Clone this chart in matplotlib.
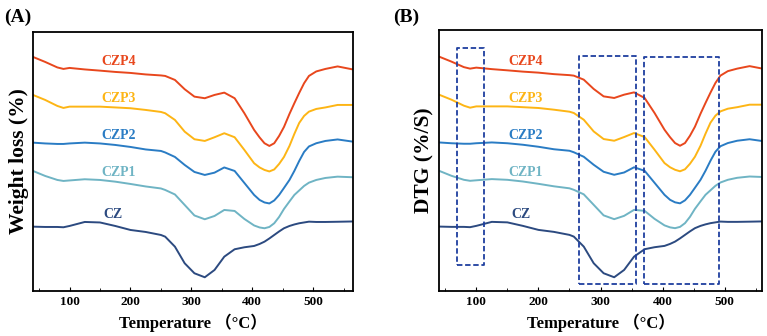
import numpy as np
import matplotlib.pyplot as plt
from matplotlib.ticker import MultipleLocator

# temperature (C) and curve values (arbitrary units, offset for stacking)
temp = [40, 60, 80, 90, 100, 125, 150, 175, 200, 225, 250, 257, 273, 289, 305, 322, 338, 354,
        371, 387, 403, 412, 420, 428, 436, 444, 452, 461, 469, 477, 485, 493, 505, 520, 540, 565]
czp4 = [243, 238, 232.5, 231, 232, 230.5, 229.3, 228, 227, 225.5, 224.5, 224, 220, 210.7, 203.3, 201.7, 205, 207.3,
        201.7, 186.7, 170, 162.5, 156.7, 154, 156.7, 164, 173, 186, 196.7, 207, 216.7, 224, 228.5, 231, 233.5, 230.5]
czp3 = [205, 200, 194, 192, 193.3, 193.3, 193.3, 192.5, 191.7, 190, 188, 186.7, 180, 168.3, 160.7, 159, 162.7, 166.7,
        162.7, 150, 136.7, 132.5, 130, 128.5, 130.5, 136, 143, 154, 166, 177, 184, 188.3, 191, 192.5, 195, 195]
czp2 = [157.3, 156.5, 156, 156, 156.5, 157.3, 156.5, 155, 153, 150.5, 149, 147.5, 143, 135, 128, 125, 127.3, 132.5,
        129, 117, 105, 100, 97.5, 96.5, 99.5, 105, 112, 120, 129, 139, 148, 153.5, 156.7, 159, 160.5, 158.3]
czp1 = [129, 124, 120, 119, 119.5, 120.7, 120, 118.3, 116, 113.5, 111.5, 110, 105.5, 95, 84.5, 80.7, 84, 90,
        89, 81, 74.5, 72.5, 71.7, 73, 76.7, 83, 91, 98.5, 105, 109.5, 114, 117.3, 120, 122, 123.3, 122.7]
cz = [73.3, 73, 73, 72.7, 74, 78, 77.5, 74, 70, 68, 65, 63.3, 53.3, 36.7, 26.7, 22.7, 30, 43.3,
      50.7, 52.7, 54, 56, 58.3, 61.5, 65, 68.5, 71.7, 74, 75.5, 76.7, 77.5, 78.3, 78, 78, 78.2, 78.5]

names = ['CZP4', 'CZP3', 'CZP2', 'CZP1', 'CZ']
colors = ['#e8471d', '#fdb515', '#2a7cc4', '#6fb4c4', '#2c4a80']
label_x = [180, 180, 180, 180, 172]
label_y = [238, 201, 164, 127, 85]

# dashed boxes on panel B: (t0, t1, y0, y1)
boxes = [(69, 112, 35, 252), (266, 357, 16, 244), (370, 491, 16, 243)]

plt.rcParams['font.family'] = ['Liberation Serif', 'Noto Sans CJK SC']
plt.rcParams['font.weight'] = 'bold'

fig = plt.figure(figsize=(7.67, 3.36), dpi=100)
axA = fig.add_axes([0.043, 0.134, 0.417, 0.771])
axB = fig.add_axes([0.5724, 0.134, 0.4211, 0.778])

series = [czp4, czp3, czp2, czp1, cz]
for ax, ylab, xmax, ytop in [(axA, 'Weight loss (%)', 565, 268), (axB, 'DTG (%/S)', 560, 270)]:
    for s, n, c, lx, ly in zip(series, names, colors, label_x, label_y):
        ax.plot(temp, s, color=c, lw=1.4, solid_joinstyle='round')
        ax.text(lx, ly, n, color=c, fontsize=10, fontweight='bold', ha='center', va='center')
    ax.set_xlim(40, xmax)
    ax.set_ylim(9, ytop)
    ax.set_yticks([])
    ax.xaxis.set_major_locator(MultipleLocator(100))
    ax.xaxis.set_minor_locator(MultipleLocator(50))
    ax.tick_params(axis='x', which='both', direction='in', labelsize=9.5)
    ax.tick_params(axis='x', which='major', length=3)
    ax.tick_params(axis='x', which='minor', length=2)
    for sp in ax.spines.values():
        sp.set_linewidth(1.3)
    ax.set_xlabel('Temperature （°C）', fontsize=12, fontweight='bold', labelpad=4)
    ax.set_ylabel(ylab, fontsize=15.5, fontweight='bold', labelpad=3)

for t0, t1, y0, y1 in boxes:
    axB.plot([t0, t1, t1, t0, t0], [y0, y0, y1, y1, y0], color='#1f3f9f', lw=1.3, ls=(0, (3, 1.5)))

fig.text(0.006, 0.975, '(A)', fontsize=14, fontweight='bold', va='top')
fig.text(0.512, 0.975, '(B)', fontsize=14, fontweight='bold', va='top')

fig.savefig('out.png', dpi=100)
